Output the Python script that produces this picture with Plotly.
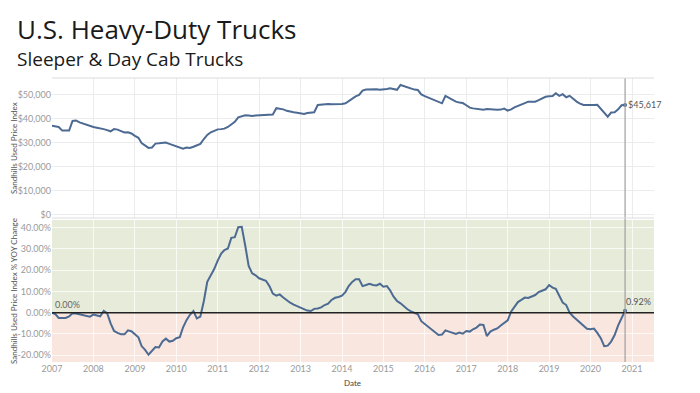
import pandas as pd
import plotly.graph_objects as go

# ---------------- data ----------------
start_month = "2007-01-01"
n_months = 167

price_k = [
    # 2007
    37.0, 36.8, 36.5, 35.0, 35.0, 35.0, 39.0, 39.2, 38.4, 37.9, 37.3, 36.8,
    # 2008
    36.5, 36.2, 36.0, 35.6, 35.2, 34.7, 35.6, 35.4, 34.8, 34.2, 34.3, 33.8,
    # 2009
    32.8, 32.0, 29.8, 28.8, 27.8, 28.0, 29.6, 29.7, 30.0, 30.0, 29.5, 29.0,
    # 2010
    28.5, 27.8, 27.5, 28.0, 27.8, 28.3, 28.8, 29.5, 31.5, 33.2, 34.3, 34.8,
    # 2011
    35.5, 35.6, 35.8, 36.5, 37.5, 38.6, 40.5, 41.0, 41.3, 41.2, 41.0, 41.2,
    # 2012
    41.3, 41.5, 41.4, 41.7, 41.7, 44.3, 44.1, 43.8, 43.2, 42.8, 42.6, 42.4,
    # 2013
    42.1, 41.9, 42.3, 42.5, 42.6, 45.6, 45.8, 45.8, 46.0, 45.9, 45.9, 46.0,
    # 2014
    46.0, 46.3, 47.2, 48.2, 49.2, 49.8, 51.6, 52.0, 52.1, 52.0, 52.1, 51.9,
    # 2015
    51.9, 52.2, 52.5, 52.3, 51.9, 53.9, 53.4, 53.0, 52.6, 52.0, 51.8, 50.0,
    # 2016
    49.3, 48.7, 48.0, 47.5, 46.9, 46.3, 49.4, 48.5, 47.6, 47.0, 46.6, 46.4,
    # 2017
    45.5, 44.5, 44.2, 44.1, 43.8, 43.6, 43.9, 43.7, 43.6, 43.6, 43.7, 44.1,
    # 2018
    43.3, 43.8, 44.6, 45.3, 45.8, 46.4, 47.0, 47.0, 47.0, 47.6, 48.3, 49.0,
    # 2019
    49.2, 49.3, 50.5, 49.4, 50.1, 48.8, 49.4, 48.0, 47.0, 46.2, 45.6, 45.6,
    # 2020
    45.5, 45.6, 45.7, 44.0, 42.6, 40.8, 42.5, 42.6, 43.8, 45.5, 45.617,
]

yoy_pct = [
    # 2007
    0.0, -0.8, -2.5, -2.6, -2.5, -1.8, -0.3, -0.4, -0.7, -1.0, -1.4, -1.9,
    # 2008
    -0.9, -1.2, -1.7, 0.8, -0.2, -5.0, -8.6, -9.5, -10.2, -10.2, -8.3, -8.7,
    # 2009
    -10.0, -11.6, -15.7, -17.5, -19.8, -18.0, -16.2, -16.4, -13.5, -12.2, -13.6, -13.2,
    # 2010
    -12.0, -11.5, -7.0, -3.5, -1.0, 0.8, -2.7, -1.8, 5.5, 14.5, 17.5, 20.5,
    # 2011
    24.5, 27.8, 29.5, 30.2, 35.2, 35.5, 40.2, 40.4, 31.5, 22.0, 18.5, 17.6,
    # 2012
    16.2, 15.7, 15.0, 12.5, 9.0, 8.0, 8.6, 7.1, 5.8, 4.7, 3.8, 3.1,
    # 2013
    2.4, 1.7, 1.0, 0.8, 1.8, 2.0, 2.5, 3.6, 4.2, 6.0, 7.0, 7.4,
    # 2014
    8.0, 9.8, 12.5, 14.5, 15.7, 15.7, 12.5, 13.0, 13.6, 13.0, 12.8, 13.6,
    # 2015
    12.2, 12.5, 10.5, 7.5, 5.5, 4.4, 3.0, 1.6, 0.6, 0.0, -0.8, -4.0,
    # 2016
    -5.3, -6.8, -7.8, -9.2, -10.5, -10.3, -8.3, -8.9, -9.5, -10.0, -9.4, -9.9,
    # 2017
    -8.6, -8.9, -7.8, -7.0, -5.6, -5.8, -11.0, -8.9, -8.0, -7.4, -6.0, -4.8,
    # 2018
    -3.6, 0.6, 3.0, 5.0, 6.0, 7.1, 6.9, 7.5, 8.3, 9.7, 10.5, 11.0,
    # 2019
    13.0, 11.8, 11.2, 8.0, 4.8, 3.6, 0.0, -1.8, -3.3, -5.0, -6.5, -7.6,
    # 2020
    -7.8, -7.5, -9.5, -12.0, -15.7, -15.5, -13.6, -10.5, -6.0, -2.5, 0.92,
]

year_ticks = list(range(2007, 2022))
price_ticks = [0, 10000, 20000, 30000, 40000, 50000]
price_tick_text = ["$0", "$10,000", "$20,000", "$30,000", "$40,000", "$50,000"]
yoy_ticks = [-20, -10, 0, 10, 20, 30, 40]
yoy_tick_text = ["-20.00%", "-10.00%", "0.00%", "10.00%", "20.00%", "30.00%", "40.00%"]

title_text = "U.S. Heavy-Duty Trucks"
subtitle_text = "Sleeper &amp; Day Cab Trucks"
y1_title = "Sandhills Used Price Index"
y2_title = "Sandhills Used Price Index % YOY Change"
x_title = "Date"

# ---------------- figure ----------------
dates = pd.date_range(start_month, periods=n_months, freq="MS")
price = [v * 1000 for v in price_k]

OFF = 8  # page body margin offset of the figure in the browser window
W, H = 700 - OFF, 393 - OFF

def px(v):  # reference-window pixel -> figure pixel
    return v - OFF

LINE = "#4c6a92"
GRID = "#ececec"
TICK = "#9a9a9a"

plot_left, plot_right = px(52), px(654)
plot_top, plot_bottom = px(78), px(362)
ml, mr, mt, mb = plot_left, W - plot_right, plot_top, H - plot_bottom
plot_w = plot_right - plot_left
plot_h = plot_bottom - plot_top

def xp(v):  # ref pixel x -> paper
    return (px(v) - plot_left) / plot_w

def yp(v):  # ref pixel y -> paper
    return (plot_bottom - px(v)) / plot_h

top_dom = [yp(218), 1.0]
bot_dom = [0.0, yp(220)]

fig = go.Figure()
fig.add_trace(go.Scatter(x=dates, y=price, mode="lines", line=dict(color=LINE, width=2),
                         xaxis="x2", yaxis="y", hoverinfo="skip", showlegend=False))
fig.add_trace(go.Scatter(x=[dates[-1]], y=[price[-1]], mode="markers",
                         marker=dict(color=LINE, size=4), xaxis="x2", yaxis="y",
                         showlegend=False, hoverinfo="skip"))
fig.add_trace(go.Scatter(x=dates, y=yoy_pct, mode="lines", line=dict(color=LINE, width=2),
                         xaxis="x", yaxis="y2", hoverinfo="skip", showlegend=False))
fig.add_trace(go.Scatter(x=[dates[-1]], y=[yoy_pct[-1]], mode="markers",
                         marker=dict(color=LINE, size=4), xaxis="x", yaxis="y2",
                         showlegend=False, hoverinfo="skip"))

x_start = pd.Timestamp("2007-01-01")
x_end = pd.Timestamp("2021-07-14")
tick_dates = [pd.Timestamp(f"{y}-01-01") for y in year_ticks]

fig.update_layout(
    width=W, height=H,
    margin=dict(l=ml, r=mr, t=mt, b=mb, autoexpand=False),
    paper_bgcolor="white", plot_bgcolor="white",
    font=dict(family="Lato, Open Sans, sans-serif", color=TICK, size=9),
    xaxis=dict(domain=[0, 1], range=[x_start, x_end], anchor="y2",
               tickvals=tick_dates, ticktext=[str(y) for y in year_ticks],
               showgrid=True, gridcolor="rgba(255,255,255,0.75)", gridwidth=1, zeroline=False,
               ticks="", tickfont=dict(size=9, color=TICK), showline=False),
    xaxis2=dict(domain=[0, 1], range=[x_start, x_end], anchor="y", matches="x",
                tickvals=tick_dates, showticklabels=False, showgrid=True,
                gridcolor=GRID, zeroline=False, ticks=""),
    yaxis=dict(domain=top_dom, range=[-1250, 56800], anchor="x2",
               tickvals=price_ticks, ticktext=price_tick_text,
               showgrid=True, gridcolor=GRID, zeroline=False, ticks="",
               tickfont=dict(size=9, color=TICK)),
    yaxis2=dict(domain=bot_dom, range=[-23.2, 43.6], anchor="x",
                tickvals=yoy_ticks, ticktext=yoy_tick_text,
                showgrid=True, gridcolor="rgba(255,255,255,0.75)", zeroline=False, ticks="",
                tickfont=dict(size=9, color=TICK)),
)

shapes = [
    dict(type="rect", xref="x domain", yref="y2", x0=0, x1=1, y0=0, y1=43.6,
         fillcolor="#e6ebda", line=dict(width=0), layer="below"),
    dict(type="rect", xref="x domain", yref="y2", x0=0, x1=1, y0=-23.2, y1=0,
         fillcolor="#f9e6df", line=dict(width=0), layer="below"),
    dict(type="line", xref="x domain", yref="y2", x0=0, x1=1, y0=0, y1=0,
         line=dict(color="#222222", width=1.6)),
    dict(type="line", xref="x", yref="paper", x0=dates[-1], x1=dates[-1], y0=0, y1=1,
         line=dict(color="#a0a0a0", width=1.2)),
    dict(type="line", xref="paper", yref="paper", x0=0, x1=1, y0=1, y1=1,
         line=dict(color="#dcdcdc", width=1)),
    dict(type="line", xref="paper", yref="paper", x0=0, x1=1, y0=top_dom[0], y1=top_dom[0],
         line=dict(color="#dcdcdc", width=1)),
]
fig.update_layout(shapes=shapes)

ann = [
    dict(text=title_text, xref="paper", yref="paper", x=xp(16), y=yp(29),
         xanchor="left", yanchor="middle", showarrow=False, borderpad=0,
         font=dict(family="Open Sans, sans-serif", size=26, color="#1a1a1a")),
    dict(text=subtitle_text, xref="paper", yref="paper", x=xp(16), y=yp(59),
         xanchor="left", yanchor="middle", showarrow=False, borderpad=0,
         font=dict(family="Open Sans, sans-serif", size=19, color="#1a1a1a")),
    dict(text=y1_title, xref="paper", yref="paper", x=xp(14),
         y=(top_dom[0] + top_dom[1]) / 2, textangle=-90, showarrow=False,
         xanchor="center", yanchor="middle", font=dict(size=8, color="#555555")),
    dict(text=y2_title, xref="paper", yref="paper", x=xp(14),
         y=(bot_dom[0] + bot_dom[1]) / 2, textangle=-90, showarrow=False,
         xanchor="center", yanchor="middle", font=dict(size=8, color="#555555")),
    dict(text=x_title, xref="paper", yref="paper", x=xp(352), y=yp(383),
         showarrow=False, xanchor="center", yanchor="middle",
         font=dict(size=8, color="#444444")),
    dict(text=f"${price[-1]:,.0f}", xref="x2", yref="y", x=dates[-1], y=price[-1],
         xanchor="left", yanchor="middle", showarrow=False, xshift=1,
         font=dict(size=9, color="#555555")),
    dict(text=f"{yoy_pct[0]:.2f}%", xref="x", yref="y2", x=dates[0], y=yoy_pct[0],
         xanchor="left", yanchor="bottom", showarrow=False, xshift=1, yshift=1,
         font=dict(size=9, color="#666666")),
    dict(text=f"{yoy_pct[-1]:.2f}%", xref="x", yref="y2", x=dates[-1], y=yoy_pct[-1],
         xanchor="left", yanchor="bottom", showarrow=False, xshift=-1, yshift=2,
         font=dict(size=9, color="#555555")),
]
fig.update_layout(annotations=ann)

fig.write_html("out.html")
